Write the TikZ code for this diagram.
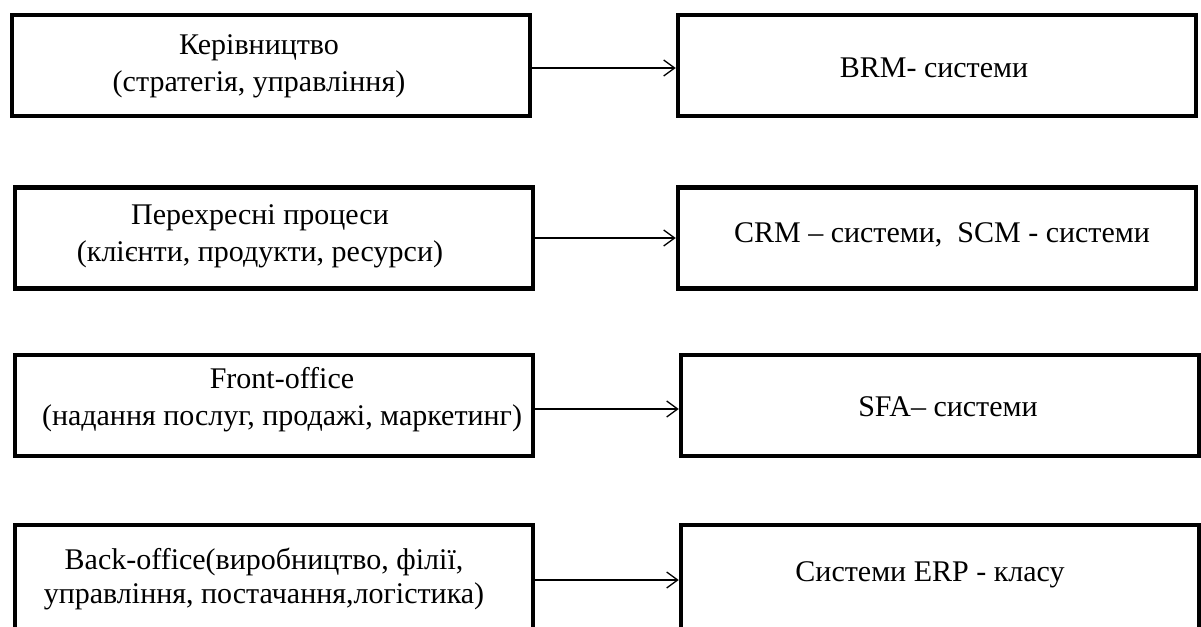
\documentclass[tikz,border=0pt]{standalone}
\usepackage{fontspec}
\setmainfont{Liberation Serif}
\usetikzlibrary{arrows.meta}

\tikzset{
  level/.style={draw, line width=4.5pt, inner sep=0pt, align=center,
    minimum width=518pt, minimum height=101pt},
  system/.style={level},
  caption/.style={align=center, font=\fontsize{30}{37}\selectfont},
  link/.style={line width=1.3pt, -{Straight Barb[length=11pt,width=16pt,line width=1.3pt]}}
}

\begin{document}
\begin{tikzpicture}[x=1pt, y=-1pt]
  \useasboundingbox (0,0) rectangle (1201,626);

  % organisational levels (left column)
  \node[level] (l1) at (271,65.5) {};
  \node[level] (l2) at (274,238) {};
  \node[level] (l3) at (274,405.5) {};
  \node[level, minimum height=110pt] (l4) at (274,580) {};

  % information systems (right column)
  \node[system] (r1) at (937,65.5) {};
  \node[system] (r2) at (937,238) {};
  \node[system] (r3) at (940,405.5) {};
  \node[system, minimum height=110pt] (r4) at (940,580) {};

  % box labels
  \node[caption] (t1) at (259,66.5)
    {Керівництво\\(стратегія, управління)};
  \node[caption] (t2) at (260,236.5)
    {Перехресні процеси\\(клієнти, продукти, ресурси)};
  \node[caption] (t3) at (282,400)
    {Front-office\\(надання послуг, продажі, маркетинг)};
  \node[caption, font=\fontsize{30}{34}\selectfont] (t4) at (264,579)
    {Back-office(виробництво, філії,\\управління, постачання,логістика)};

  \node[caption] (s1) at (934,68) {BRM- системи};
  \node[caption] (s2) at (942,235) {CRM – системи,\ \ SCM - системи};
  \node[caption] (s3) at (948,407) {SFA– системи};
  \node[caption] (s4) at (930,575) {Системи ERP - класу};

  % connectors
  \draw[link] ([yshift=-2.5pt]l1.east) -- ([yshift=-2.5pt]r1.west);
  \draw[link] (l2.east) -- (r2.west);
  \draw[link] ([yshift=-3.5pt]l3.east) -- ([yshift=-3.5pt]r3.west);
  \draw[link] (l4.east) -- (r4.west);
\end{tikzpicture}
\end{document}
